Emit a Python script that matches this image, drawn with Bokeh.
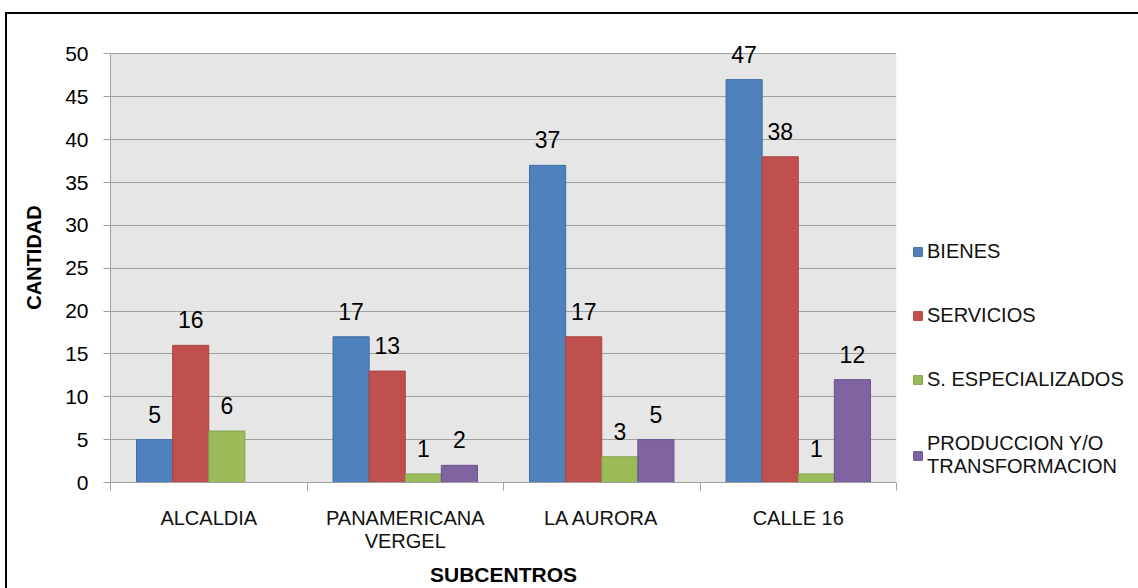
from bokeh.plotting import figure
from bokeh.models import FixedTicker, Legend, LegendItem, ColumnDataSource, LabelSet, BoxAnnotation
from bokeh.core.properties import value
from bokeh.embed import file_html
from bokeh.resources import INLINE

categories = ["ALCALDIA", "PANAMERICANA\nVERGEL", "LA AURORA", "CALLE 16"]
series_names = ["BIENES", "SERVICIOS", "S. ESPECIALIZADOS", "PRODUCCION Y/O\nTRANSFORMACION"]
bienes = [5, 17, 37, 47]
servicios = [16, 13, 17, 38]
especializados = [6, 1, 3, 1]
produccion = [None, 2, 5, 12]
y_ticks = list(range(0, 51, 5))

series = [bienes, servicios, especializados, produccion]
fills = ["#4F81BD", "#C0504D", "#9BBB59", "#8064A2"]
lines = ["#3D6CA6", "#A94341", "#84A24A", "#6A5190"]

FONT = "Liberation Sans"
y_max = max(y_ticks)

# frame extends a little above the top tick so the top value label is not clipped
p = figure(frame_width=786, frame_height=450, x_range=(0, len(categories)), y_range=(0, y_max + 2.5),
           output_backend="svg", toolbar_location=None,
           min_border_left=103, min_border_top=18, min_border_right=238, min_border_bottom=102,
           background_fill_color="white", border_fill_color="white",
           outline_line_color=None)
p.margin = (12, 0, 0, 5)
p.styles = {"border-top": "2px solid black", "border-left": "2px solid black"}

plot_bg = BoxAnnotation(top=y_max, bottom=0, fill_color="#E6E6E6", fill_alpha=1.0,
                        line_color=None, level="image")
p.add_layout(plot_bg)

bw = 0.1837
items = []
for j, (vals, name) in enumerate(zip(series, series_names)):
    xs, tops = [], []
    for i, v in enumerate(vals):
        if v is None:
            continue
        xs.append(i + 0.5 + (j - 1.5) * bw)
        tops.append(v)
    src = ColumnDataSource(dict(x=xs, top=tops, lab=[str(t) for t in tops]))
    r = p.vbar(x="x", top="top", width=bw, source=src, fill_color=fills[j],
               line_color=lines[j], line_width=1)
    labels = LabelSet(x="x", y="top", text="lab", source=src, text_align="center",
                      text_baseline="alphabetic", y_offset=17, text_font_size="23px",
                      text_font=value(FONT), text_color="black")
    p.add_layout(labels)
    items.append(LegendItem(label=name, renderers=[r]))

# axes
p.xgrid.grid_line_color = None
p.ygrid.grid_line_color = "#A0A0A0"
p.ygrid.grid_line_width = 1

p.yaxis.ticker = FixedTicker(ticks=y_ticks)
p.yaxis.bounds = (0, y_max)
p.yaxis.axis_line_color = "#A0A0A0"
p.yaxis.major_tick_line_color = "#A0A0A0"
p.yaxis.major_tick_out = 7
p.yaxis.major_tick_in = 0
p.yaxis.minor_tick_line_color = None
p.yaxis.major_label_standoff = 15
p.yaxis.major_label_text_font = FONT
p.yaxis.major_label_text_font_size = "21px"
p.yaxis.major_label_text_color = "black"
p.yaxis.axis_label = "CANTIDAD"
p.yaxis.axis_label_text_font = FONT
p.yaxis.axis_label_text_font_style = "bold"
p.yaxis.axis_label_text_font_size = "20px"
p.yaxis.axis_label_standoff = 17
p.yaxis.axis_label_text_color = "black"

centers = [i + 0.5 for i in range(len(categories))]
p.xaxis.ticker = FixedTicker(ticks=centers, minor_ticks=list(range(len(categories) + 1)))
p.xaxis.major_label_overrides = {c: lab for c, lab in zip(centers, categories)}
p.xaxis.axis_line_color = "#A0A0A0"
p.xaxis.major_tick_line_color = None
p.xaxis.major_tick_out = 0
p.xaxis.major_tick_in = 0
p.xaxis.minor_tick_line_color = "#A0A0A0"
p.xaxis.minor_tick_out = 8
p.xaxis.minor_tick_in = 0
p.xaxis.major_label_standoff = 16
p.xaxis.major_label_text_font = FONT
p.xaxis.major_label_text_font_size = "20px"
p.xaxis.major_label_text_line_height = 1.05
p.xaxis.major_label_text_color = "#111111"
p.xaxis.axis_label = "SUBCENTROS"
p.xaxis.axis_label_text_font = FONT
p.xaxis.axis_label_text_font_style = "bold"
p.xaxis.axis_label_text_font_size = "21px"
p.xaxis.axis_label_standoff = 8
p.xaxis.axis_label_text_color = "black"

legend = Legend(items=items, location=(16, 4), orientation="vertical",
                label_text_font=FONT, label_text_font_size="20px", label_text_color="#111111",
                label_text_line_height=1.35,
                glyph_width=11, glyph_height=11, label_height=20, spacing=41,
                padding=4, margin=0, border_line_color=None, background_fill_color=None,
                label_standoff=4)
p.add_layout(legend, "right")

open("out.html", "w").write(file_html(p, INLINE))
